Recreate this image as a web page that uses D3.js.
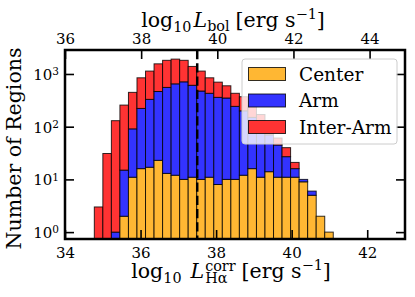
<!DOCTYPE html>
<html>
<head>
<meta charset="utf-8">
<script src="https://cdn.jsdelivr.net/npm/d3@7"></script>
<style>
  body { margin: 0; background: #fff; }
  svg text { font-family: "DejaVu Serif", serif; fill: #000; }
</style>
</head>
<body>
<svg id="chart" width="415" height="297"></svg>
<script>
// histogram bins (log10 L_Ha corr), left edge + width
var binStart = 34.776;
var binWidth = 0.2259;

// counts per bin
var centerCounts = [0, 0, 0, 2, 11, 16, 17, 23, 13, 12, 10, 11, 10, 11, 8, 10, 10, 12, 16, 11, 14, 11, 11, 11, 9, 5, 2, 1];
var armCounts    = [0, 0, 1, 13, 80, 206, 313, 442, 543, 638, 700, 599, 465, 419, 352, 340, 233, 188, 134, 99, 56, 34, 16, 5, 1, 1, 0, 0];
var interCounts  = [3, 31, 129, 242, 357, 624, 805, 1092, 1260, 1265, 1106, 780, 660, 416, 340, 247, 187, 170, 100, 60, 30, 16, 13, 5, 0, 0, 0, 0];

var seriesNames = ["Center", "Arm", "Inter-Arm"];
var seriesColors = ["#ffb733", "#3333ff", "#ff3333"];

var xTicks = [34, 36, 38, 40, 42];
var xTopTicks = [36, 38, 40, 42, 44];
var yTicks = [1, 10, 100, 1000];
var yTickExp = ["0", "1", "2", "3"];
var cutLine = 37.5;

// plot box
var pL = 65, pR = 405, pT = 50, pB = 239;

var svg = d3.select("#chart");

var x = d3.scaleLinear().domain([34, 43]).range([pL, pR]);
var xTop = d3.scaleLinear().domain([36, 44.93]).range([pL, pR]);
var y = d3.scaleLog().domain([0.74, 2850]).range([pB, pT]);

svg.append("clipPath").attr("id", "plotclip")
  .append("rect").attr("x", pL).attr("y", pT)
  .attr("width", pR - pL).attr("height", pB - pT);

// build stacked segments
var segs = [];
centerCounts.forEach(function(c, i) {
  var a = armCounts[i], r = interCounts[i];
  var levels = [c, c + a, c + a + r];
  var prev = 0;
  levels.forEach(function(v, k) {
    if (v > prev) {
      segs.push({ i: i, k: k, y0: prev, y1: v });
    }
    prev = v;
  });
});

var plot = svg.append("g").attr("clip-path", "url(#plotclip)");

plot.selectAll("rect.bar")
  .data(segs)
  .enter().append("rect")
  .attr("class", "bar")
  .attr("x", function(d) { return x(binStart + d.i * binWidth); })
  .attr("width", function(d) { return x(binStart + (d.i + 1) * binWidth) - x(binStart + d.i * binWidth); })
  .attr("y", function(d) { return y(d.y1); })
  .attr("height", function(d) { return (d.y0 > 0 ? y(d.y0) : pB + 2) - y(d.y1); })
  .attr("fill", function(d) { return seriesColors[d.k]; })
  .attr("stroke", "rgba(0,0,0,0.8)")
  .attr("stroke-width", 1);

// dashed cut line
plot.append("line")
  .attr("x1", x(cutLine)).attr("x2", x(cutLine))
  .attr("y1", pT).attr("y2", pB)
  .attr("stroke", "#000")
  .attr("stroke-width", 2.5)
  .attr("stroke-dasharray", "9.25,4");

// axes (ticks pointing in)
var tickLen = 9;
var tickFont = "15px";
var gx = svg.append("g").attr("transform", "translate(0," + pB + ")")
  .call(d3.axisBottom(x).tickValues(xTicks).tickSize(-tickLen).tickPadding(8).tickFormat(d3.format("d")));
var gxt = svg.append("g").attr("transform", "translate(0," + pT + ")")
  .call(d3.axisTop(xTop).tickValues(xTopTicks).tickSize(-tickLen).tickPadding(6).tickFormat(d3.format("d")));
var gy = svg.append("g").attr("transform", "translate(" + pL + ",0)")
  .call(d3.axisLeft(y).tickValues(yTicks).tickSize(-tickLen).tickFormat(""));
var gyr = svg.append("g").attr("transform", "translate(" + pR + ",0)")
  .call(d3.axisRight(y).tickValues(yTicks).tickSize(-tickLen).tickFormat(""));

[gx, gxt, gy, gyr].forEach(function(g) {
  g.attr("font-family", "DejaVu Serif").attr("font-size", null);
  g.select(".domain").remove();
  g.selectAll(".tick line").attr("stroke", "#000").attr("stroke-width", 1.6);
  g.selectAll(".tick text").style("font-family", "DejaVu Serif").style("font-size", tickFont).attr("fill", "#000");
});

// y tick labels 10^n
gy.selectAll(".tick").each(function(d, i) {
  var t = d3.select(this).append("text")
    .attr("x", -6).attr("dy", "0.36em")
    .attr("text-anchor", "end")
    .style("font-family", "DejaVu Serif")
    .style("font-size", tickFont);
  t.append("tspan").text("10");
  t.append("tspan").attr("dy", "-0.45em").style("font-size", "10.5px").text(yTickExp[i]);
});

// frame
svg.append("rect")
  .attr("x", pL).attr("y", pT)
  .attr("width", pR - pL).attr("height", pB - pT)
  .attr("fill", "none").attr("stroke", "#000").attr("stroke-width", 2.5);

// mathtext-like label, laid out piece by piece
function mathLabel(parent, pieces, cx, base, size) {
  var g = parent.append("g");
  var pos = 0, lastStart = 0, lastEnd = 0;
  pieces.forEach(function(p) {
    if (p.gap) { pos += p.gap; return; }
    var start = p.stack ? lastStart : pos;
    var t = g.append("text")
      .attr("x", start).attr("y", p.shift || 0)
      .style("font-size", (size * (p.scale || 1)) + "px")
      .style("font-style", p.italic ? "italic" : "normal")
      .text(p.t);
    var end = start + t.node().getComputedTextLength();
    if (p.stack) {
      end = Math.max(end, lastEnd);
    }
    pos = end;
    lastStart = start;
    lastEnd = end;
  });
  g.attr("transform", "translate(" + (cx - pos / 2) + "," + base + ")");
  return g;
}

var fs = 20.5;
mathLabel(svg, [
  { t: "log" }, { t: "10", scale: 0.7, shift: 5 }, { gap: 9 },
  { t: "L", italic: true }, { gap: 1 },
  { t: "corr", scale: 0.7, shift: -7 }, { t: "H\u03b1", scale: 0.7, shift: 5, stack: true },
  { gap: 6 }, { t: "[erg s" }, { t: "\u22121", scale: 0.7, shift: -8 }, { t: "]" }
], 231, 278, fs);

mathLabel(svg, [
  { t: "log" }, { t: "10", scale: 0.7, shift: 5 }, { gap: 2 },
  { t: "L", italic: true }, { t: "bol", scale: 0.7, shift: 4 },
  { gap: 6 }, { t: "[erg s" }, { t: "\u22121", scale: 0.7, shift: -8 }, { t: "]" }
], 233, 27, fs);

svg.append("text")
  .attr("transform", "translate(21," + ((pT + pB) / 2 + 4) + ") rotate(-90)")
  .attr("text-anchor", "middle")
  .style("font-size", fs + "px")
  .text("Number of Regions");

// legend
var leg = svg.append("g").attr("transform", "translate(242,59)");
leg.append("rect")
  .attr("width", 155).attr("height", 85)
  .attr("rx", 3)
  .attr("fill", "rgba(255,255,255,0.8)")
  .attr("stroke", "#cccccc").attr("stroke-width", 1);
seriesNames.forEach(function(name, k) {
  var row = leg.append("g").attr("transform", "translate(0," + (15 + k * 26.5) + ")");
  row.append("rect")
    .attr("x", 6.5).attr("y", -6.5).attr("width", 37).attr("height", 13)
    .attr("fill", seriesColors[k])
    .attr("stroke", "rgba(0,0,0,0.8)").attr("stroke-width", 1);
  row.append("text")
    .attr("x", 57).attr("dy", "0.36em")
    .style("font-size", "18.5px")
    .text(name);
});
</script>
</body>
</html>
